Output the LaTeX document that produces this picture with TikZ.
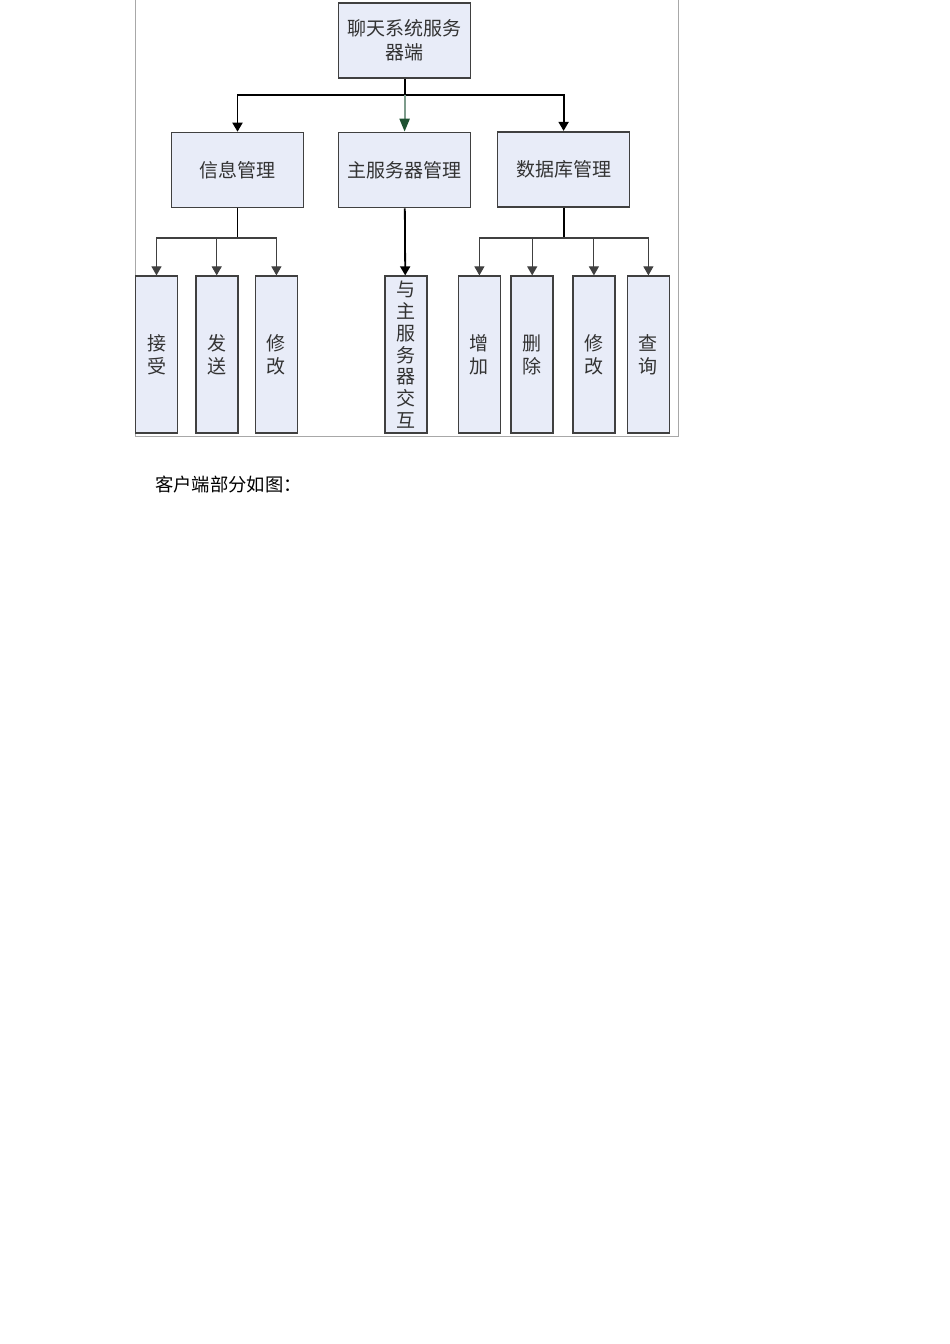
\documentclass[tikz,border=0pt]{standalone}
\usepackage{fontspec}
\newfontfamily\cjk{Noto Sans CJK SC}
\usetikzlibrary{arrows.meta}

\definecolor{boxfill}{HTML}{E8ECF8}
\definecolor{boxline}{HTML}{404040}
\definecolor{frameline}{HTML}{A8A8A8}
\definecolor{midline}{HTML}{7E9C8C}
\definecolor{midtip}{HTML}{1E5232}

\tikzset{
  box/.style={draw=boxline, fill=boxfill, line width=1.6pt, inner sep=0pt,
    text=black!80, align=center, font=\cjk\fontsize{19}{24}\selectfont},
  topbox/.style={box, minimum width=132, minimum height=75},
  leafbox/.style={box, minimum width=42, minimum height=157,
    font=\cjk\fontsize{19}{23}\selectfont},
  trunk/.style={line width=1.8pt, black},
  branch/.style={line width=1.1pt, black!75},
}

\begin{document}
\begin{tikzpicture}[x=1pt, y=-1pt, >={Triangle[width=10pt,length=9pt]}]
			\useasboundingbox (0,0) rectangle (950,1344);
			\draw[frameline, line width=0.8pt] (135,0) -- (135,436) -- (678,436) -- (678,0);
			%
			\node[topbox] (root) at (404.6,40.7) {聊天系统服务\\器端};
			\node[topbox] (info) at (237.5,170) {信息管理};
			\node[topbox] (main) at (404.6,170) {主服务器管理};
			\node[topbox] (db) at (563.6,169.2) {数据库管理};
			%
			\node[leafbox] (recv) at (156.5,354.7) {接\\受};
			\node[leafbox] (send) at (216.7,354.7) {发\\送};
			\node[leafbox] (edit) at (276.4,354.7) {修\\改};
			\node[leafbox, font=\cjk\fontsize{19}{21.7}\selectfont] (talk) at (405.7,354.7) {与\\主\\服\\务\\器\\交\\互};
			\node[leafbox] (add) at (479.4,354.7) {增\\加};
			\node[leafbox] (del) at (532.2,354.7) {删\\除};
			\node[leafbox] (mod) at (593.9,354.7) {修\\改};
			\node[leafbox] (query) at (648.4,354.7) {查\\询};
			%
			\coordinate (bus) at (404.6,95);
			\coordinate (lbus) at (0,238);
			\draw[trunk] (root) -- (bus);
			\draw[trunk,->] (bus) -| (info);
			\draw[trunk,->] (bus) -| (db);
			\draw[midline, line width=2.2pt, -{Triangle[width=10pt,length=13pt,color=midtip]}] (bus) -- (main);
			%
			\draw[trunk] (info) -- (info.south |- lbus);
			\draw[branch,->] (info.south |- lbus) -| (recv);
			\draw[branch,->] (info.south |- lbus) -| (send);
			\draw[branch,->] (info.south |- lbus) -| (edit);
			\draw[trunk,->] (main) -- (talk);
			\draw[trunk] (db) -- (db.south |- lbus);
			\draw[branch,->] (db.south |- lbus) -| (add);
			\draw[branch,->] (db.south |- lbus) -| (del);
			\draw[branch,->] (db.south |- lbus) -| (mod);
			\draw[branch,->] (db.south |- lbus) -| (query);
			%
			\node[anchor=west, inner sep=0pt, font=\cjk\fontsize{18.3}{20}\selectfont] (caption) at (155,485) {客户端部分如图：};
		\end{tikzpicture}
\end{document}
